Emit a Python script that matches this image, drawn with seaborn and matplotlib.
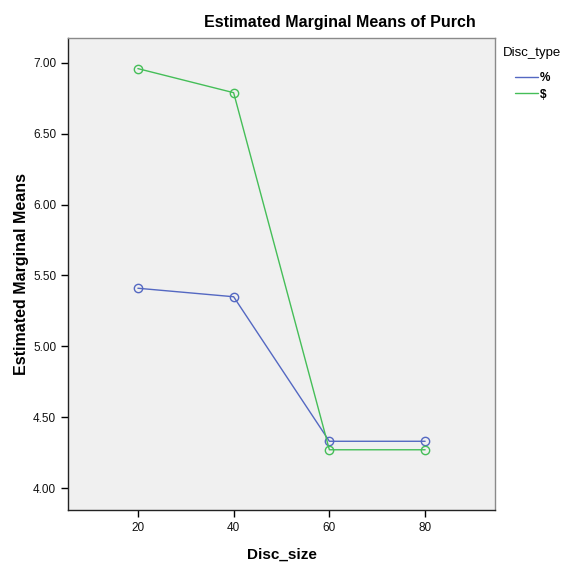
import matplotlib
matplotlib.use("Agg")
import matplotlib.pyplot as plt
import seaborn as sns
import pandas as pd
from matplotlib.lines import Line2D

sns.set_theme(style="white")
plt.rcParams['font.family'] = ['Liberation Sans', 'DejaVu Sans']
plt.rcParams['text.color'] = 'black'

disc_size = [20, 40, 60, 80]
pct_means = [5.41, 5.35, 4.33, 4.33]
dollar_means = [6.96, 6.79, 4.27, 4.27]
disc_types = ["%", "$"]
y_ticks = [4.0, 4.5, 5.0, 5.5, 6.0, 6.5, 7.0]
x_ticks = [20, 40, 60, 80]

df = pd.DataFrame({
    "Disc_size": disc_size * 2,
    "mean": pct_means + dollar_means,
    "Disc_type": [disc_types[0]] * 4 + [disc_types[1]] * 4,
})

colors = {"%": "#5468c2", "$": "#45be58"}

fig = plt.figure(figsize=(5.63, 5.63), dpi=100)
ax = fig.add_axes([68/563, 1 - 510/563, (495-68)/563, (510-38)/563])
ax.set_facecolor("#f0f0f0")

sns.lineplot(data=df, x="Disc_size", y="mean", hue="Disc_type", palette=colors,
             marker="o", markersize=6, markerfacecolor="none", linewidth=1.0,
             ax=ax, legend=False)
for line in ax.lines:
    line.set_markeredgecolor(line.get_color())
    line.set_markeredgewidth(1.0)

ax.set_xlim(5.4, 94.6)
ax.set_ylim(3.845, 7.176)
ax.set_xticks(x_ticks)
ax.set_xticklabels([str(v) for v in x_ticks])
ax.set_yticks(y_ticks)
ax.set_yticklabels([f"{v:.2f}" for v in y_ticks])
ax.tick_params(axis="both", which="both", direction="out", length=5, width=1,
               labelsize=8.5, color="black", labelcolor="#111111", left=True, bottom=True)

for s in ["left", "bottom"]:
    ax.spines[s].set_color("#222222")
    ax.spines[s].set_linewidth(1.0)
for s in ["top", "right"]:
    ax.spines[s].set_color("#8a8a8a")
    ax.spines[s].set_linewidth(1.0)

ax.set_xlabel("Disc_size", fontsize=11, fontweight="bold", labelpad=10, color="black")
ax.set_ylabel("Estimated Marginal Means", fontsize=11.5, fontweight="bold", labelpad=3, color="black")

fig.text(340/563, 1 - 22/563, "Estimated Marginal Means of Purch",
         ha="center", va="center", fontsize=11.5, fontweight="bold", color="black")

fig.text(503/563, 1 - 53/563, "Disc_type", ha="left", va="center",
         fontsize=9.5, color="black")
handles = [Line2D([0], [0], color=colors[t], lw=1.0) for t in disc_types]
leg = fig.legend(handles, disc_types, loc="upper left",
                 bbox_to_anchor=(506/563, 1 - 63/563), frameon=False,
                 fontsize=8.5, handlelength=1.9,
                 handletextpad=0.15, labelspacing=0.35, borderpad=0.3)
for t in leg.get_texts():
    t.set_color("black")
    t.set_fontweight("bold")

fig.savefig("out.png", dpi=100, facecolor="white")
